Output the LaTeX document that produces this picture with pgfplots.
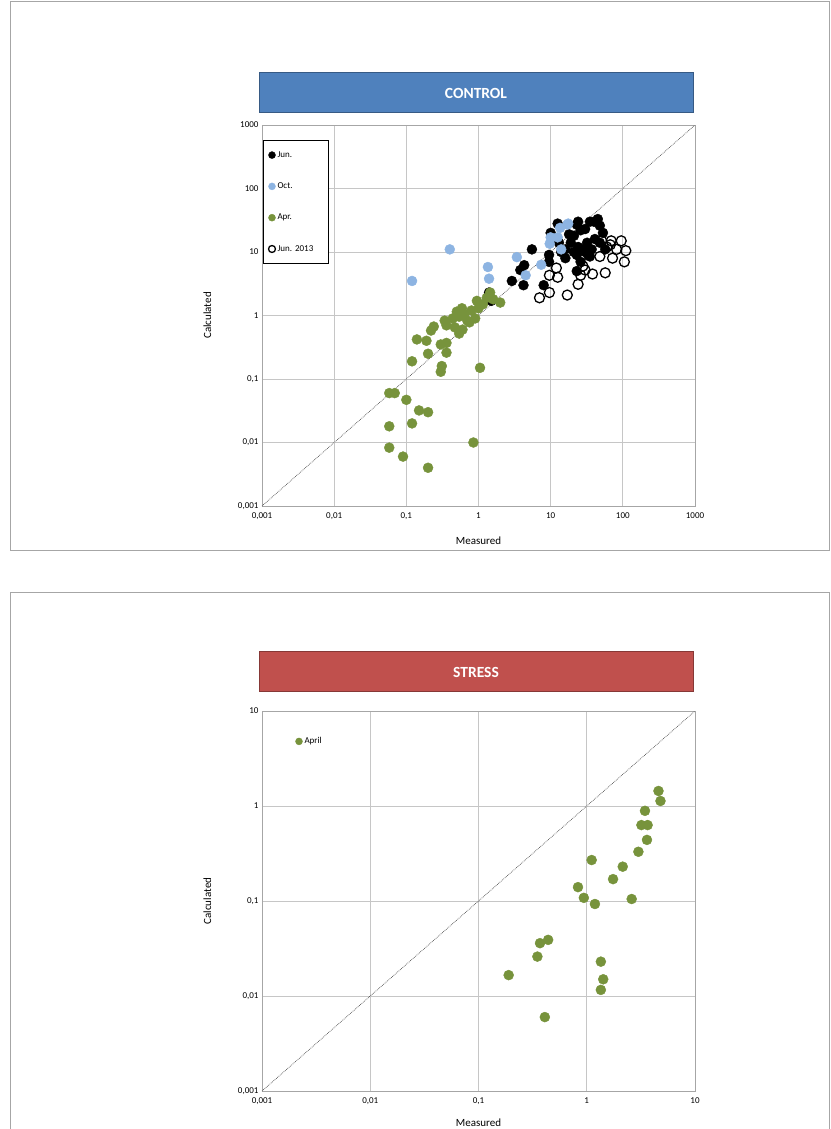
\documentclass[border=0pt]{standalone}
\usepackage{pgfplots}
\pgfplotsset{compat=1.18}
\usepackage{fontspec}
\setmainfont{Carlito}
\frenchspacing
\definecolor{jun}{HTML}{000000}
\definecolor{oct}{HTML}{8DB4E2}
\definecolor{apr}{HTML}{77933C}
\definecolor{cbar}{HTML}{4F81BD}
\definecolor{sbar}{HTML}{C0504D}
\pgfplotsset{myax/.style={scale only axis,width=433pt,
 grid=major,major grid style={gray!45,line width=0.8pt},axis line style={gray!70},
 tick style={draw=none},ticklabel style={font=\fontsize{9}{10}\selectfont},
 xticklabel style={yshift=-3pt},
 label style={font=\fontsize{11}{12}\selectfont},
 xlabel={Measured},ylabel={Calculated},
 xlabel style={yshift=-10pt},ylabel style={yshift=20pt},
 mark size=5pt}}
\begin{document}
\begin{tikzpicture}
\path[use as bounding box] (0pt,0pt) rectangle (830pt,-1129pt);
\draw[gray!70] (10pt,-1pt) rectangle (829.5pt,-550pt);
\draw[gray!70] (10pt,-592pt) rectangle (829.5pt,-1135pt);
\draw[fill=cbar,draw=cbar!70!black] (259pt,-72pt) rectangle (693pt,-112pt);
\node[white,font=\bfseries\fontsize{15.5}{17}\selectfont] at (476pt,-93pt) {CONTROL};
\draw[fill=sbar,draw=sbar!70!black] (259pt,-651pt) rectangle (693pt,-691pt);
\node[white,font=\bfseries\fontsize{15.5}{17}\selectfont] at (476pt,-672pt) {STRESS};
\begin{axis}[xmode=log,ymode=log,myax,at={(262pt,-506pt)},anchor=south west,height=381pt,
 xmin=0.001,xmax=1000,ymin=0.001,ymax=1000,
 xtick={0.001,0.01,0.1,1,10,100,1000},xticklabels={{0,001},{0,01},{0,1},1,10,100,1000},
 ytick={0.001,0.01,0.1,1,10,100,1000},yticklabels={{0,001},{0,01},{0,1},1,10,100,1000},
 legend style={at={(0.003,0.96)},anchor=north west,draw=black,font=\fontsize{9}{10}\selectfont,row sep=20pt,inner ysep=9pt,inner xsep=5pt,text width=44pt},
 legend cell align=left,legend image post style={mark size=3.5pt}]
\addplot[only marks,mark=*,mark options={fill=jun,draw=jun}] coordinates {
(2.9,3.5)(3.8,5.2)(4.3,6.2)(4.2,3)(5.5,11)(8,3)(9.5,9)(10,20)(12.5,28)(9.5,7)
(13,14)(14,10)(16,11)(16,8)(19,14)(21,18)(23,27)(24,30)(26,22)(24,12)(23,5)(26,7)
(30,23)(32,14)(35,30)(40,30)(45,33)(48,26)(41,16)(37,11)(48,14)(53,20)(57,11)(35,8.5)
(28,11)(23,9)(18,19)(33,9)(21,10)(30,10)(1.4,2.3)(1.5,1.7)};
\addlegendentry{Jun.}
\addplot[only marks,mark=*,mark options={fill=oct,draw=oct}] coordinates {
(0.12,3.5)(0.4,11)(1.35,5.8)(1.4,3.8)(3.4,8.3)(4.5,4.3)(7.4,6.3)(9.7,13.5)(10,17)
(12.5,17)(13.5,24)(17,27)(14,11)(17.5,28)};
\addlegendentry{Oct.}
\addplot[only marks,mark=*,mark options={fill=apr,draw=apr}] coordinates {
(0.058,0.06)(0.069,0.06)(0.1,0.047)(0.058,0.018)(0.12,0.02)(0.15,0.032)(0.2,0.03)
(0.058,0.0083)(0.09,0.006)(0.2,0.004)(0.85,0.01)(1.05,0.15)(0.12,0.19)(0.2,0.25)
(0.14,0.42)(0.3,0.13)(0.31,0.16)(0.36,0.26)(0.3,0.35)(0.36,0.37)(0.22,0.58)(0.24,0.67)
(0.19,0.4)(0.34,0.83)(0.36,0.7)(0.47,0.65)(0.54,0.96)(0.59,1.3)(0.64,1.05)(0.7,0.83)
(0.54,0.52)(0.6,0.6)(0.75,0.78)(0.9,0.9)(0.95,1.7)(1.3,1.9)(1.15,1.5)(1.45,2.3)(1,1.3)
(0.8,1.2)(1.6,1.8)(2,1.6)(0.44,0.9)(0.5,1.15)};
\addlegendentry{Apr.}
\addplot[only marks,mark=o,mark options={draw=black,line width=1.3pt,fill=white}] coordinates {
(7,1.9)(9.6,2.3)(17,2.1)(9.6,4.3)(12.5,4)(12,5.6)(24,3.1)(26,4.3)(28,6)(26,8)(30,5.2)
(38,4.5)(57,4.7)(48,8.5)(51,15)(60,12)(72,8)(95,15)(105,7)(67,13)(82,11)(110,10.5)(69,15)};
\addlegendentry{Jun. 2013}
\addplot[densely dotted,gray!60!black,line width=0.7pt,forget plot] coordinates {(0.001,0.001)(1000,1000)};
\end{axis}
\begin{axis}[xmode=log,ymode=log,myax,at={(262pt,-1091pt)},anchor=south west,height=380pt,
 xlabel style={yshift=3pt},
 xmin=0.001,xmax=10,ymin=0.001,ymax=10,
 xtick={0.001,0.01,0.1,1,10},xticklabels={{0,001},{0,01},{0,1},1,10},
 ytick={0.001,0.01,0.1,1,10},yticklabels={{0,001},{0,01},{0,1},1,10},
 legend style={at={(0.07,0.92)},anchor=west,draw=none,fill=none,font=\fontsize{9}{10}\selectfont},
 legend image post style={mark size=3.5pt}]
\addplot[only marks,mark=*,mark options={fill=apr,draw=apr}] coordinates {
(0.19,0.0166)(0.35,0.026)(0.37,0.036)(0.44,0.039)(0.41,0.006)(0.83,0.14)(0.94,0.108)
(1.11,0.27)(1.19,0.093)(1.35,0.023)(1.42,0.015)(1.35,0.0116)(1.75,0.17)(2.15,0.23)
(2.6,0.105)(3.0,0.33)(3.2,0.63)(3.45,0.89)(3.65,0.63)(3.6,0.44)(4.6,1.44)(4.8,1.13)};
\addlegendentry{April}
\addplot[densely dotted,gray!60!black,line width=0.7pt,forget plot] coordinates {(0.001,0.001)(10,10)};
\end{axis}
\end{tikzpicture}
\end{document}
